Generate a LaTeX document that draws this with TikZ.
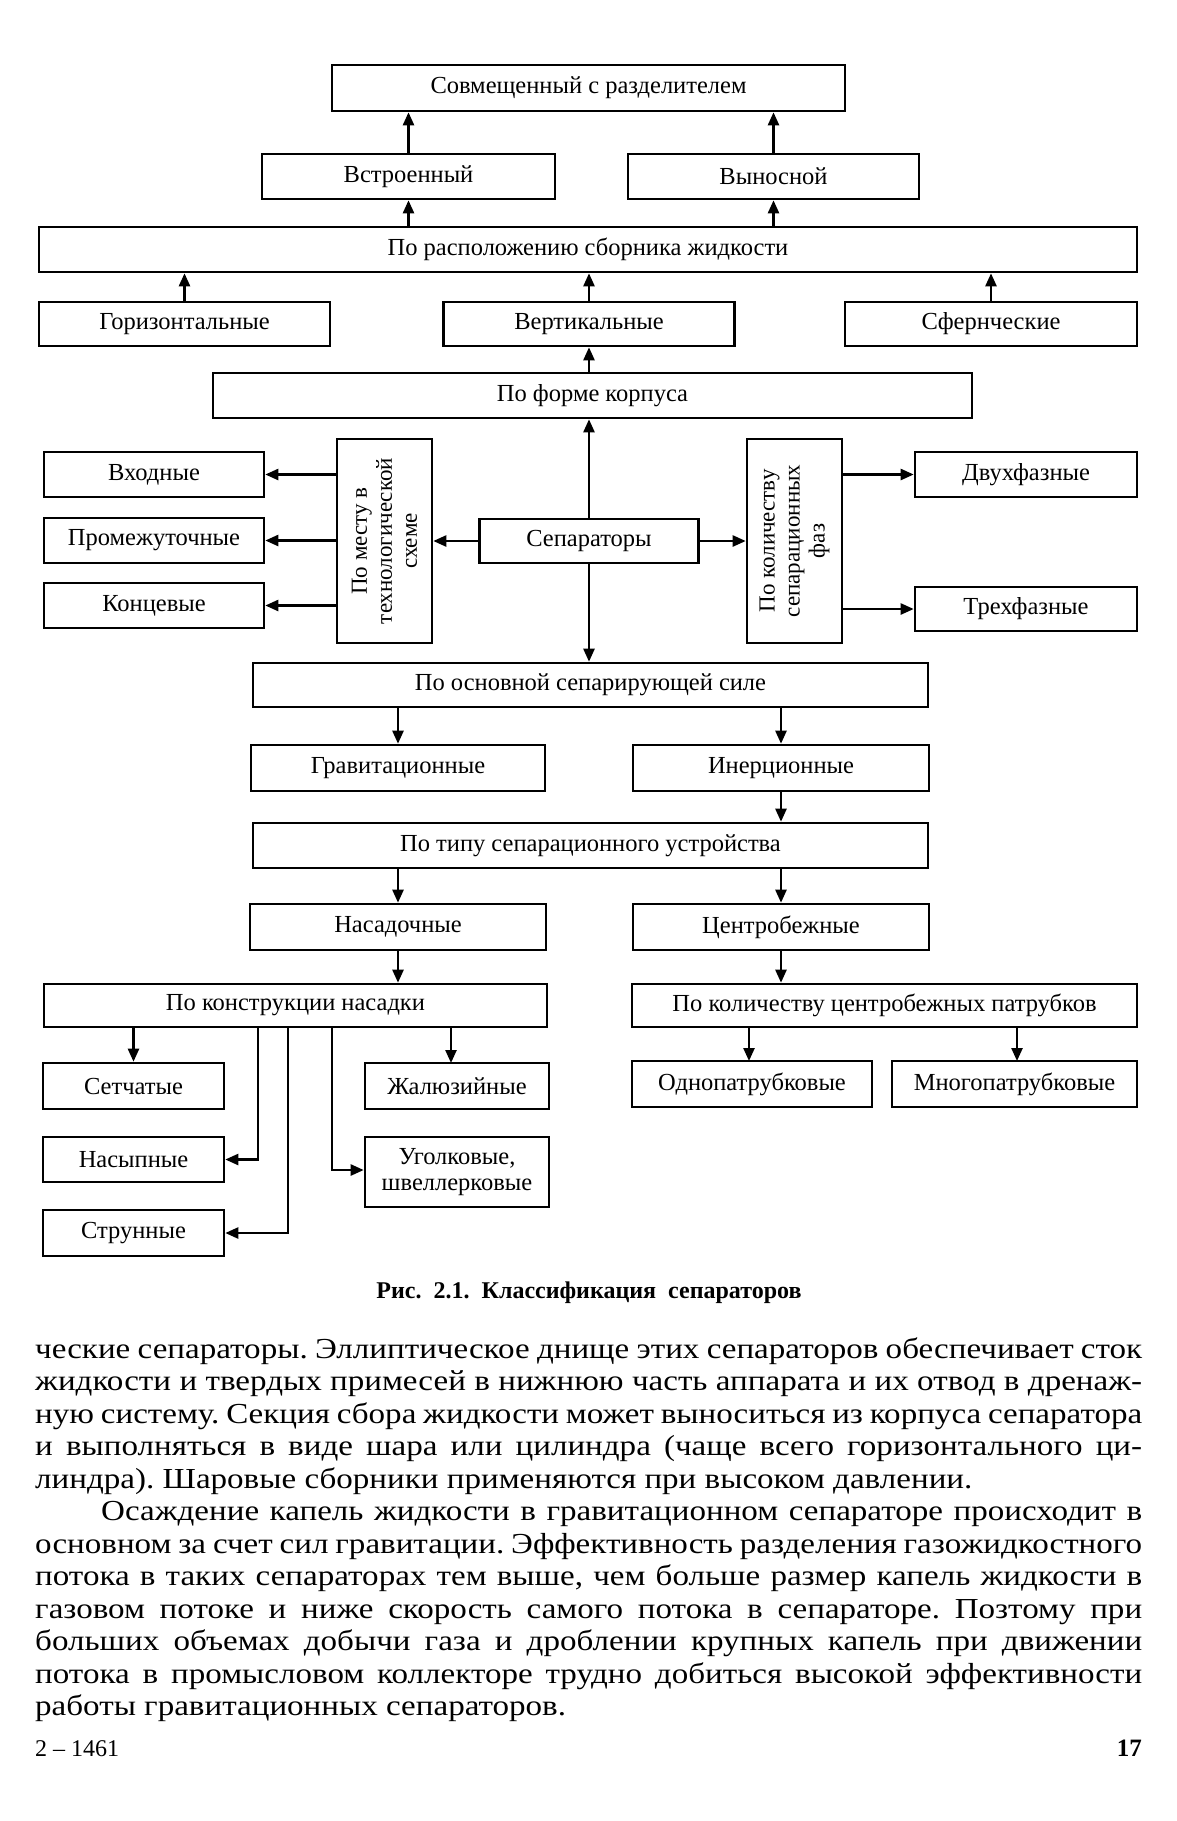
\documentclass[tikz,border=0pt]{standalone}
\usepackage{fontspec}
\setmainfont{Liberation Serif}
\newfontfamily\bodyfont[FakeStretch=1.14]{Liberation Serif}
\usetikzlibrary{arrows.meta}
\begin{document}
\frenchspacing
\begin{tikzpicture}[x=1pt,y=-1pt,
  box/.style={draw, line width=2.6pt, inner sep=0pt, align=center, font=\fontsize{24.5}{26.5}\selectfont},
  vlabel/.style={rotate=90, align=center, inner sep=0pt, font=\fontsize{23}{25}\selectfont},
  arr/.style={line width=2.4pt, -{Triangle[length=13pt,width=11pt]}},
  ln/.style={line width=2.4pt},
  body/.style={anchor=base west, inner sep=0pt, font=\bodyfont\fontsize{29}{32}\selectfont}]
\useasboundingbox[fill=white] (0,0) rectangle (1177,1821);

% --- top part
\node[box, minimum width=513pt, minimum height=46pt] (sovm) at (588.5,88) {Совмещенный с разделителем};
\node[box, minimum width=293pt, minimum height=45pt] (vstr) at (408.5,176.5) {Встроенный};
\node[box, minimum width=291pt, minimum height=45pt] (vyn) at (773.5,176.5) {Выносной};
\node[box, minimum width=1098pt, minimum height=45pt] (porasp) at (588,249.5) {По расположению сборника жидкости};
\node[box, minimum width=291pt, minimum height=44pt] (goriz) at (184.5,324) {Горизонтальные};
\node[box, minimum width=291pt, minimum height=44pt] (vert) at (589,324) {Вертикальные};
\node[box, minimum width=292pt, minimum height=44pt] (sfer) at (991,324) {Сфернческие};
\node[box, minimum width=759pt, minimum height=45pt] (forma) at (592.5,395.5) {По форме корпуса};

% --- middle part
\node[box, minimum width=220pt, minimum height=45pt] (vhod) at (154,474.5) {Входные};
\node[box, minimum width=220pt, minimum height=45pt] (prom) at (154,540.5) {Промежуточные};
\node[box, minimum width=220pt, minimum height=45pt] (konc) at (154,605.5) {Концевые};
\node[box, minimum width=95pt, minimum height=204pt] (mesto) at (384.5,541) {};
\node[vlabel] (mestoT) at (mesto.center) {По месту в\\технологической\\схеме};
\node[box, minimum width=219pt, minimum height=44pt] (sep) at (589,541) {Сепараторы};
\node[box, minimum width=95pt, minimum height=204pt] (kolfaz) at (794.5,541) {};
\node[vlabel] (kolfazT) at (kolfaz.center) {По количеству\\сепарационных\\фаз};
\node[box, minimum width=222pt, minimum height=45pt] (dvuh) at (1026,474.5) {Двухфазные};
\node[box, minimum width=222pt, minimum height=44pt] (treh) at (1026,609) {Трехфазные};
\node[box, minimum width=675pt, minimum height=44pt] (osn) at (590.5,685) {По основной сепарирующей силе};

% --- lower part
\node[box, minimum width=294pt, minimum height=46pt] (grav) at (398,768) {Гравитационные};
\node[box, minimum width=296pt, minimum height=46pt] (iner) at (781,768) {Инерционные};
\node[box, minimum width=675pt, minimum height=45pt] (tip) at (590.5,845.5) {По типу сепарационного устройства};
\node[box, minimum width=296pt, minimum height=46pt] (nasad) at (398,927) {Насадочные};
\node[box, minimum width=296pt, minimum height=46pt] (centr) at (781,927) {Центробежные};
\node[box, minimum width=503pt, minimum height=43pt] (konstr) at (295.5,1005.5) {По конструкции насадки};
\node[box, minimum width=505pt, minimum height=43pt] (kolpat) at (884.5,1005.5) {По количеству центробежных патрубков};
\node[box, minimum width=181pt, minimum height=46pt] (setch) at (133.5,1086) {Сетчатые};
\node[box, minimum width=184pt, minimum height=46pt] (zhal) at (457,1086) {Жалюзийные};
\node[box, minimum width=181pt, minimum height=45pt] (nasyp) at (133.5,1159.5) {Насыпные};
\node[box, minimum width=184pt, minimum height=70pt] (ugol) at (457,1172) {Уголковые,\\швеллерковые};
\node[box, minimum width=181pt, minimum height=46pt] (strun) at (133.5,1233) {Струнные};
\node[box, minimum width=240pt, minimum height=46pt] (odno) at (752,1084) {Однопатрубковые};
\node[box, minimum width=245pt, minimum height=46pt] (mnogo) at (1014.5,1084) {Многопатрубковые};

% --- connectors
\draw[arr] (vstr.north) -- (vstr.north|-sovm.south);
\draw[arr] (vyn.north) -- (vyn.north|-sovm.south);
\draw[arr] (vstr.south|-porasp.north) -- (vstr.south);
\draw[arr] (vyn.south|-porasp.north) -- (vyn.south);
\draw[arr] (goriz.north) -- (goriz.north|-porasp.south);
\draw[arr] (vert.north) -- (vert.north|-porasp.south);
\draw[arr] (sfer.north) -- (sfer.north|-porasp.south);
\draw[arr] (vert.south|-forma.north) -- (vert.south);
\draw[arr] (sep.north) -- (sep.north|-forma.south);
\draw[arr] (sep.south) -- (sep.south|-osn.north);
\draw[arr] (sep.west) -- (mesto.east);
\draw[arr] (sep.east) -- (kolfaz.west);
\draw[arr] (mesto.west|-vhod.east) -- (vhod.east);
\draw[arr] (mesto.west|-prom.east) -- (prom.east);
\draw[arr] (mesto.west|-konc.east) -- (konc.east);
\draw[arr] (kolfaz.east|-dvuh.west) -- (dvuh.west);
\draw[arr] (kolfaz.east|-treh.west) -- (treh.west);
\draw[arr] (grav.north|-osn.south) -- (grav.north);
\draw[arr] (iner.north|-osn.south) -- (iner.north);
\draw[arr] (iner.south) -- (iner.south|-tip.north);
\draw[arr] (nasad.north|-tip.south) -- (nasad.north);
\draw[arr] (centr.north|-tip.south) -- (centr.north);
\draw[arr] (nasad.south) -- (nasad.south|-konstr.north);
\draw[arr] (centr.south) -- (centr.south|-kolpat.north);
\draw[arr] (setch.north|-konstr.south) -- (setch.north);
\coordinate (kz) at (451,1063);
\draw[arr] (kz|-konstr.south) -- (kz);
\coordinate (kn) at (258,1160);
\draw[arr] (kn|-konstr.south) |- (nasyp.east);
\coordinate (ks) at (288,1232);
\draw[arr] (ks|-konstr.south) |- (strun.east);
\coordinate (ku) at (332,1170);
\draw[arr] (ku|-konstr.south) |- (ugol.west|-ku);
\coordinate (ko) at (749,1061);
\draw[arr] (ko|-kolpat.south) -- (ko);
\coordinate (km) at (1017,1061);
\draw[arr] (km|-kolpat.south) -- (km);

% --- caption
\node[inner sep=0pt, anchor=base, font=\bfseries\fontsize{24}{26}\selectfont] (cap) at (589,1298)
  {Рис.\ \ 2.1.\ \ Классификация\ \ сепараторов};

% --- body text
\node[body] (t1) at (35,1358) {\makebox[1107pt][s]{ческие сепараторы. Эллиптическое днище этих сепараторов обеспечивает сток}};
\node[body] (t2) at (35,1390.5) {\makebox[1107pt][s]{жидкости и твердых примесей в нижнюю часть аппарата и их отвод в дренаж-}};
\node[body] (t3) at (35,1423) {\makebox[1107pt][s]{ную систему. Секция сбора жидкости может выноситься из корпуса сепаратора}};
\node[body] (t4) at (35,1455.5) {\makebox[1107pt][s]{и выполняться в виде шара или цилиндра (чаще всего горизонтального ци-}};
\node[body] (t5) at (35,1488) {линдра). Шаровые сборники применяются при высоком давлении.};
\node[body] (t6) at (35,1520.5) {\makebox[1107pt][s]{\hspace*{66pt}Осаждение капель жидкости в гравитационном сепараторе происходит в}};
\node[body] (t7) at (35,1553) {\makebox[1107pt][s]{основном за счет сил гравитации. Эффективность разделения газожидкостного}};
\node[body] (t8) at (35,1585.5) {\makebox[1107pt][s]{потока в таких сепараторах тем выше, чем больше размер капель жидкости в}};
\node[body] (t9) at (35,1618) {\makebox[1107pt][s]{газовом потоке и ниже скорость самого потока в сепараторе. Позтому при}};
\node[body] (t10) at (35,1650.5) {\makebox[1107pt][s]{больших объемах добычи газа и дроблении крупных капель при движении}};
\node[body] (t11) at (35,1683) {\makebox[1107pt][s]{потока в промысловом коллекторе трудно добиться высокой эффективности}};
\node[body] (t12) at (35,1715.5) {работы гравитационных сепараторов.};

% --- footer
\node[anchor=base west, inner sep=0pt, font=\fontsize{24}{26}\selectfont] (f1) at (35,1756) {2 – 1461};
\node[anchor=base east, inner sep=0pt, font=\bfseries\fontsize{25}{27}\selectfont] (f2) at (1142,1756) {17};
\end{tikzpicture}
\end{document}
